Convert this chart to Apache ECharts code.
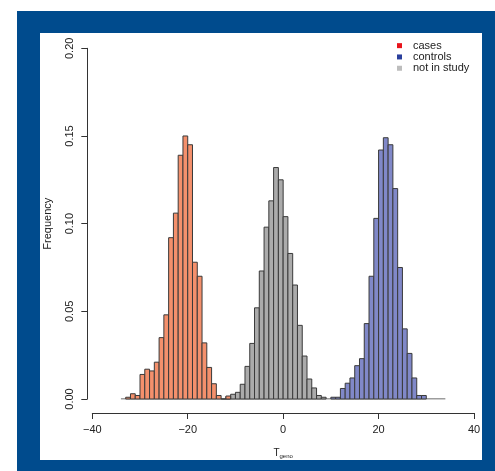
<!DOCTYPE html>
<html><head><meta charset="utf-8">
<script src="https://cdn.jsdelivr.net/npm/echarts@6/dist/echarts.min.js"></script>
<style>html,body{margin:0;padding:0;background:#fff}#c{width:495px;height:471px}</style>
</head><body><div id="c"></div>
<script>
// Histogram bins have width 1; each series lists frequencies starting at its first bin's left edge.
const casesStart = -33;
const cases = [0.001,0.003,0.002,0.014,0.017,0.016,0.021,0.035,0.048,0.092,0.106,0.139,0.150,0.145,0.078,0.070,0.032,0.018,0.0087,0.002,0,0.0017];
const notStart = -12;
const notInStudy = [0.0013,0.0027,0.0038,0.0084,0.0186,0.0317,0.052,0.073,0.098,0.113,0.132,0.125,0.104,0.083,0.065,0.042,0.0245,0.0114,0.0063,0.002,0.001];
const controlsStart = 10;
const controls = [0.001,0.001,0.006,0.009,0.012,0.019,0.023,0.043,0.070,0.103,0.142,0.149,0.145,0.120,0.075,0.040,0.026,0.012,0.002,0.002];
const breaksRange = [-34, 34];
const xTicks = [-40, -20, 0, 20, 40];
const yTicks = [0, 0.05, 0.10, 0.15, 0.20];

const FONT = 'Liberation Sans, Arial, sans-serif';
function toBins(start, vals) { return vals.map((v, i) => [start + i, start + i + 1, v]); }
function histSeries(name, start, vals, fill) {
  return {
    name, type: 'custom',
    data: toBins(start, vals),
    encode: { x: [0, 1], y: 2 },
    itemStyle: { color: fill },
    renderItem: (params, api) => {
      const p0 = api.coord([api.value(0), api.value(2)]);
      const p1 = api.coord([api.value(1), 0]);
      return { type: 'rect',
        shape: { x: p0[0], y: p0[1], width: p1[0] - p0[0], height: p1[1] - p0[1] },
        style: { fill: fill, stroke: '#3a3a3a', lineWidth: 1 } };
    }
  };
}
const chart = echarts.init(document.getElementById('c'));
chart.setOption({
  backgroundColor: '#ffffff',
  animation: false,
  textStyle: { fontFamily: FONT },
  graphic: [
    { type: 'rect', z: -10, silent: true, shape: { x: 17, y: 11, width: 478, height: 460 }, style: { fill: '#004b8d' } },
    { type: 'rect', z: -9, silent: true, shape: { x: 40, y: 33, width: 442, height: 427 }, style: { fill: '#ffffff' } }
  ],
  legend: {
    orient: 'vertical', left: 397, top: 40, padding: 0, icon: 'rect', itemWidth: 5, itemHeight: 5, itemGap: 0,
    textStyle: { fontSize: 11, color: '#222', lineHeight: 11.3, fontFamily: FONT, padding: [0, 0, 0, 6] },
    data: [
      { name: 'cases', itemStyle: { color: '#e8141c' } },
      { name: 'controls', itemStyle: { color: '#2a3f9c' } },
      { name: 'not in study', itemStyle: { color: '#bdbdbd' } }
    ]
  },
  grid: { left: 92.3, right: 21, top: 48.3, bottom: 72 },
  xAxis: {
    type: 'value', min: xTicks[0], max: xTicks[xTicks.length - 1], interval: 20, offset: 14,
    splitLine: { show: false },
    axisLine: { show: true, onZero: false, lineStyle: { color: '#333', width: 1 } },
    axisTick: { show: true, length: 6, lineStyle: { color: '#333' } },
    axisLabel: { fontSize: 11, color: '#222', margin: 11.5, fontFamily: FONT, formatter: v => String(v).replace('-', '\u2212') },
    name: '{t|T}{s|geno}', nameLocation: 'middle', nameGap: 35,
    nameTextStyle: { rich: { t: { fontSize: 10, color: '#222', fontFamily: FONT }, s: { fontSize: 6, color: '#222', fontFamily: FONT, verticalAlign: 'bottom', padding: [5, 0, 0, 0] } } }
  },
  yAxis: {
    type: 'value', min: yTicks[0], max: yTicks[yTicks.length - 1], interval: 0.05, offset: 5,
    splitLine: { show: false },
    axisLine: { show: true, onZero: false, lineStyle: { color: '#333', width: 1 } },
    axisTick: { show: true, length: 6, lineStyle: { color: '#333' } },
    axisLabel: { fontSize: 11, color: '#222', margin: 12, rotate: 90, fontFamily: FONT, formatter: v => v.toFixed(2) },
    name: 'Frequency', nameLocation: 'middle', nameGap: 34,
    nameTextStyle: { fontSize: 11, color: '#222', fontFamily: FONT }
  },
  series: [
    { name: 'baseline', type: 'line', data: [[breaksRange[0], 0], [breaksRange[1], 0]], symbol: 'none', silent: true,
      lineStyle: { color: '#3a3a3a', width: 1 }, z: 1 },
    histSeries('not in study', notStart, notInStudy, '#ababab'),
    histSeries('cases', casesStart, cases, '#f4906c'),
    histSeries('controls', controlsStart, controls, '#8088c8')
  ]
});
</script></body></html>
